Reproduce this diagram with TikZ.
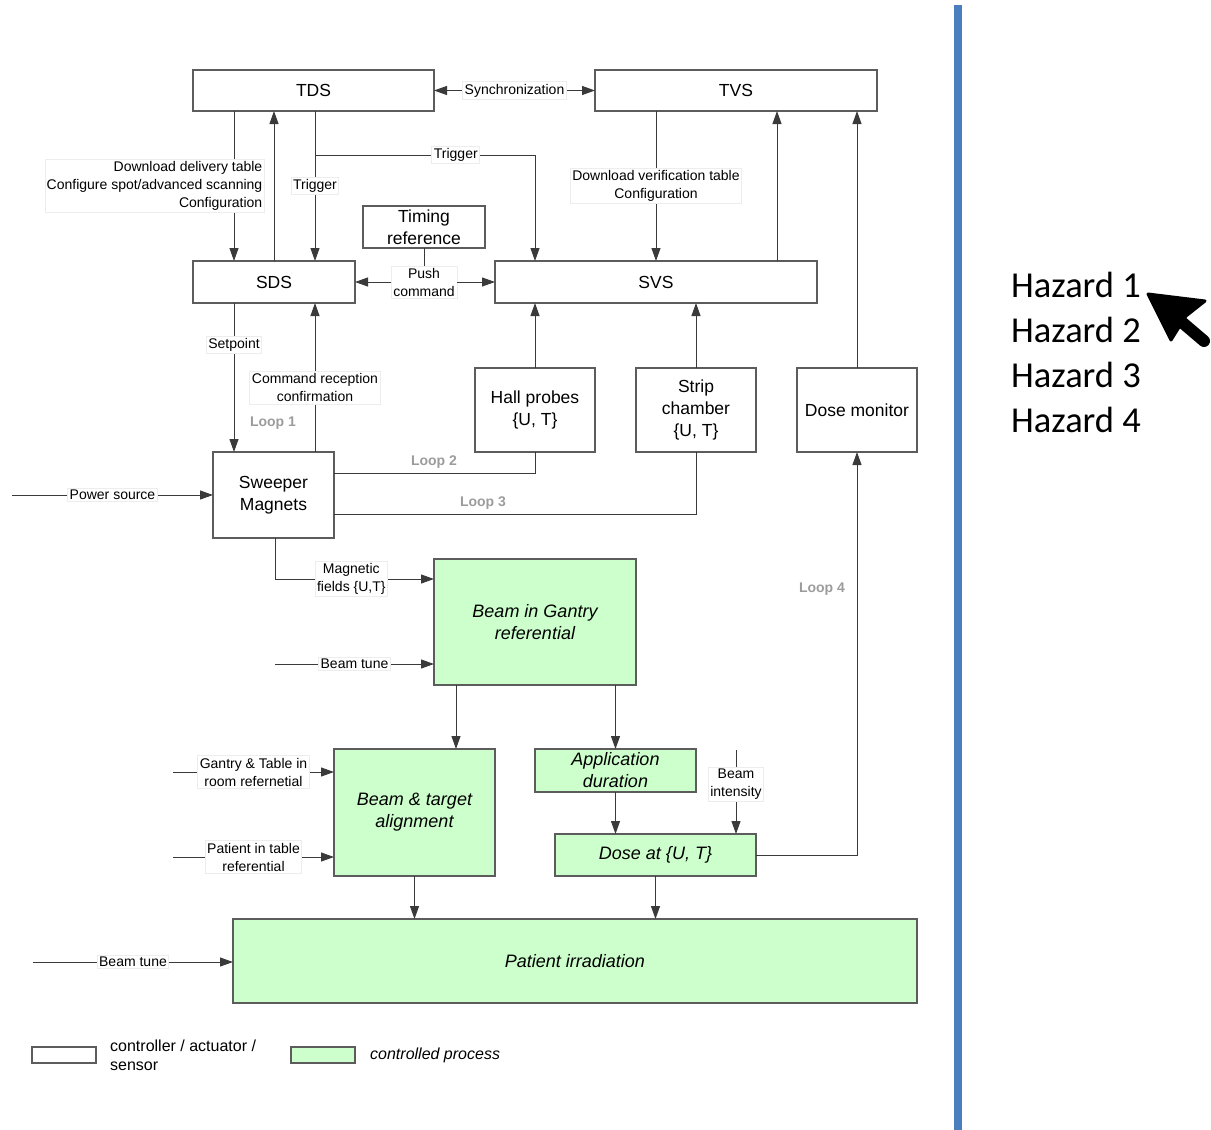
\documentclass[tikz,border=0pt]{standalone}
\usepackage{fontspec}
\setmainfont{Liberation Sans}
\newfontfamily\hazfont{Carlito}
\usetikzlibrary{arrows.meta,positioning}
\definecolor{lncol}{HTML}{3A3A3A}
\definecolor{boxcol}{HTML}{5C5C5C}
\definecolor{procgreen}{HTML}{CCFFCC}
\definecolor{loopgray}{HTML}{9C9C9C}
\definecolor{barblue}{HTML}{4A7EBF}
\tikzset{
  box/.style={draw=boxcol,line width=1.1pt,fill=white,inner sep=0pt,outer sep=0pt,align=center,font=\fontsize{17.5}{22}\selectfont},
  proc/.style={box,fill=procgreen,font=\fontsize{18}{22}\selectfont\itshape},
  lbl/.style={fill=white,draw=black!7,inner sep=2pt,align=center,font=\fontsize{14}{18}\selectfont},
  looplbl/.style={text=loopgray,inner sep=0pt,font=\fontsize{14}{16}\selectfont\bfseries},
  ln/.style={draw=lncol,line width=1pt},
  haz/.style={anchor=west,inner sep=0pt,font=\hazfont\fontsize{36.5}{40}\selectfont},
}
\begin{document}
\begin{tikzpicture}[x=1pt,y=-1pt,>={Triangle[length=13pt,width=9pt]}]
\useasboundingbox (0,0) rectangle (1211,1130);
% controllers and sensors
\node[box,minimum width=241,minimum height=41] (TDS) at (313.5,90.5) {TDS};
\node[box,minimum width=282,minimum height=41] (TVS) at (736,90.5) {TVS};
\node[box,minimum width=162,minimum height=42] (SDS) at (274,282) {SDS};
\node[box,minimum width=322,minimum height=42] (SVS) at (656,282) {SVS};
\node[box,minimum width=122,minimum height=42] (timing) at (424,227) {Timing\\reference};
\node[box,minimum width=120,minimum height=84] (hall) at (535,410) {Hall probes\\\{U, T\}};
\node[box,minimum width=120,minimum height=84] (strip) at (696,410) {Strip\\chamber\\\{U, T\}};
\node[box,minimum width=120,minimum height=84] (dosemon) at (857,410) {Dose monitor};
\node[box,minimum width=121,minimum height=86] (sweeper) at (273.5,495) {Sweeper\\Magnets};
% controlled process
\node[proc,minimum width=202,minimum height=126] (gantry) at (535,622) {Beam in Gantry\\referential};
\node[proc,minimum width=161,minimum height=127] (align) at (414.5,812.5) {Beam \& target\\alignment};
\node[proc,minimum width=161,minimum height=43] (appdur) at (615.5,770.5) {Application\\duration};
\node[proc,minimum width=201,minimum height=42] (dose) at (655.5,855) {Dose at \{U, T\}};
\node[proc,minimum width=684,minimum height=84] (patient) at (575,961) {Patient irradiation};
% free ends
\coordinate (pwr) at (12,495);
\coordinate (bt1) at (275,664);
\coordinate (gt) at (173,772);
\coordinate (pt) at (173,857);
\coordinate (bi) at (736,750);
\coordinate (bt2) at (33,962);
% top level
\draw[ln,<->] (TDS.east) -- (TVS.west) node[lbl,midway]{Synchronization};
\draw[ln,->] (234,0 |- TDS.south) -- (234,0 |- SDS.north);
\node[lbl,align=right] (dltlbl) at (154.5,186) {Download delivery table\\Configure spot/advanced scanning\\Configuration};
\draw[ln,->] (274,0 |- SDS.north) -- (274,0 |- TDS.south);
\draw[ln,->] (315,0 |- TDS.south) -- (315,0 |- SDS.north) node[lbl,midway]{Trigger};
\draw[ln,->] (315,155) -- node[lbl,pos=0.64]{Trigger} (535,155) -- (535,0 |- SVS.north);
\draw[ln,->] (656,0 |- TVS.south) -- (656,0 |- SVS.north) node[lbl,midway]{Download verification table\\Configuration};
\draw[ln,->] (777,0 |- SVS.north) -- (777,0 |- TVS.south);
\draw[ln,->] (dosemon.north) -- (dosemon.north |- TVS.south);
% push command
\node[lbl] (push) at (424,282) {Push\\command};
\draw[ln] (timing.south) -- (push.north);
\draw[ln,->] (push.west) -- (SDS.east);
\draw[ln,->] (push.east) -- (SVS.west);
% loop 1
\draw[ln,->] (234,0 |- SDS.south) -- (234,0 |- sweeper.north) node[lbl,pos=0.28]{Setpoint};
\draw[ln,->] (315,0 |- sweeper.north) -- (315,0 |- SDS.south) node[lbl,pos=0.43]{Command reception\\confirmation};
\node[looplbl] (loop1) at (273,423) {Loop 1};
\draw[ln,->] (pwr) -- (sweeper.west) node[lbl,midway]{Power source};
% loops 2 and 3
\draw[ln,->] (hall.north) -- (hall.north |- SVS.south);
\draw[ln,->] (strip.north) -- (strip.north |- SVS.south);
\draw[ln] (sweeper.east |- 0,473) -| (hall.south);
\draw[ln] (sweeper.east |- 0,514) -| (strip.south);
\node[looplbl] (loop2) at (434,462) {Loop 2};
\node[looplbl] (loop3) at (483,503) {Loop 3};
% beam
\draw[ln,->] (275,0 |- sweeper.south) |- (gantry.west |- 0,579) node[lbl,pos=0.74]{Magnetic\\fields \{U,T\}};
\draw[ln,->] (bt1) -- (gantry.west |- bt1) node[lbl,midway]{Beam tune};
\draw[ln,->] (456,0 |- gantry.south) -- (456,0 |- align.north);
\draw[ln,->] (appdur.north |- gantry.south) -- (appdur.north);
\draw[ln,->] (gt) -- (align.west |- gt) node[lbl,midway]{Gantry \& Table in\\room refernetial};
\draw[ln,->] (pt) -- (align.west |- pt) node[lbl,midway]{Patient in table\\referential};
\draw[ln,->] (appdur.south) -- (appdur.south |- dose.north);
\draw[ln,->] (bi) -- (bi |- dose.north) node[lbl,pos=0.41]{Beam\\intensity};
\draw[ln,->] (dose.east) -| (dosemon.south);
\node[looplbl] (loop4) at (822,589) {Loop 4};
\draw[ln,->] (align.south) -- (align.south |- patient.north);
\draw[ln,->] (dose.south) -- (dose.south |- patient.north);
\draw[ln,->] (bt2) -- (patient.west |- bt2) node[lbl,midway]{Beam tune};
% legend
\node[box,minimum width=64,minimum height=16] (legctl) at (64,1055) {};
\node[anchor=west,align=left,inner sep=0pt,font=\fontsize{16}{19}\selectfont] (legctltxt) at (110,1055) {controller / actuator /\\sensor};
\node[box,fill=procgreen,minimum width=64,minimum height=16] (legproc) at (323,1055) {};
\node[anchor=west,inner sep=0pt,font=\fontsize{16}{19}\selectfont\itshape] (legproctxt) at (370,1055) {controlled process};
% hazards
\draw[barblue,line width=8pt] (958,5) -- (958,1130);
\foreach \i in {1,...,4} \node[haz] (hz\i) at (1011,{240+45*\i}) {Hazard \i};
\coordinate (hztip) at (1148,294);
\filldraw[line width=3pt,line join=round] (hztip) -- (1205,301) -- (1186,316) -- (1171,340) -- cycle;
\draw[line width=12pt,line cap=round] (1170,312) -- (1204,341);
\end{tikzpicture}
\end{document}
